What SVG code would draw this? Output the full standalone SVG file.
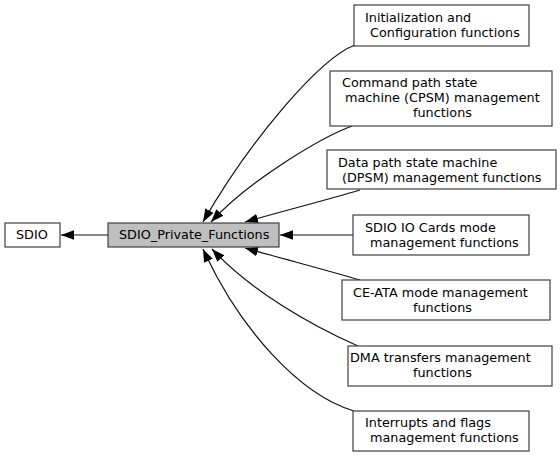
<svg xmlns="http://www.w3.org/2000/svg" width="560" height="457" viewBox="0 0 560 457">
<style>
.box{fill:#ffffff;stroke:#404040;stroke-width:1.2}
.cur{fill:#bfbfbf;stroke:#404040;stroke-width:1.2}
text{font-family:"DejaVu Sans","Liberation Sans",sans-serif;font-size:12.8px;fill:#000}
.e{fill:none;stroke:#111;stroke-width:1.2;marker-end:url(#ah)}
</style>
<defs>
<marker id="ah" markerUnits="userSpaceOnUse" markerWidth="14" markerHeight="11" viewBox="0 0 14 11" refX="13" refY="5.5" orient="auto">
<path d="M0,0.7 L13,5.5 L0,10.3 Z" fill="#000"/>
</marker>
</defs>
<rect width="560" height="457" fill="#ffffff"/>
<g id="edges">
<path class="e" d="M108,235 L61,235"/>
<path class="e" d="M355,45 C320,58 250,140 203,222"/>
<path class="e" d="M352,126 C320,138 250,180 211,222"/>
<path class="e" d="M360,190 C330,199 280,212 245,222"/>
<path class="e" d="M353,235 L280,235"/>
<path class="e" d="M360,280 C330,271 280,258 245,248"/>
<path class="e" d="M358,346 C310,325 250,290 212,249"/>
<path class="e" d="M354,411 C300,395 240,330 203,249"/>
</g>
<g id="sdio">
<rect class="box" x="5" y="223" width="55" height="24"/>
<text x="16" y="239">SDIO</text>
</g>
<g id="private">
<rect class="cur" x="108" y="223" width="171" height="24"/>
<text x="119" y="239">SDIO_Private_Functions</text>
</g>
<g id="init">
<rect class="box" x="354" y="5" width="175" height="41"/>
<text x="365" y="22">Initialization and</text>
<text x="370" y="37">Configuration functions</text>
</g>
<g id="cpsm">
<rect class="box" x="330" y="71" width="222" height="55"/>
<text x="342" y="87">Command path state</text>
<text x="345" y="102">machine (CPSM) management</text>
<text x="413" y="117">functions</text>
</g>
<g id="dpsm">
<rect class="box" x="327" y="150" width="229" height="39"/>
<text x="338" y="166.5">Data path state machine</text>
<text x="342" y="181.5">(DPSM) management functions</text>
</g>
<g id="iocards">
<rect class="box" x="353" y="215" width="176" height="40"/>
<text x="365" y="231.5">SDIO IO Cards mode</text>
<text x="370" y="246.5">management functions</text>
</g>
<g id="ceata">
<rect class="box" x="342" y="280" width="208" height="40"/>
<text x="353" y="296.5">CE-ATA mode management</text>
<text x="413" y="311.5">functions</text>
</g>
<g id="dma">
<rect class="box" x="348" y="346" width="204" height="40"/>
<text x="350" y="361.5">DMA transfers management</text>
<text x="413" y="376.5">functions</text>
</g>
<g id="irq">
<rect class="box" x="353" y="411" width="176" height="40"/>
<text x="365" y="426.5">Interrupts and flags</text>
<text x="370" y="441.5">management functions</text>
</g>
</svg>
